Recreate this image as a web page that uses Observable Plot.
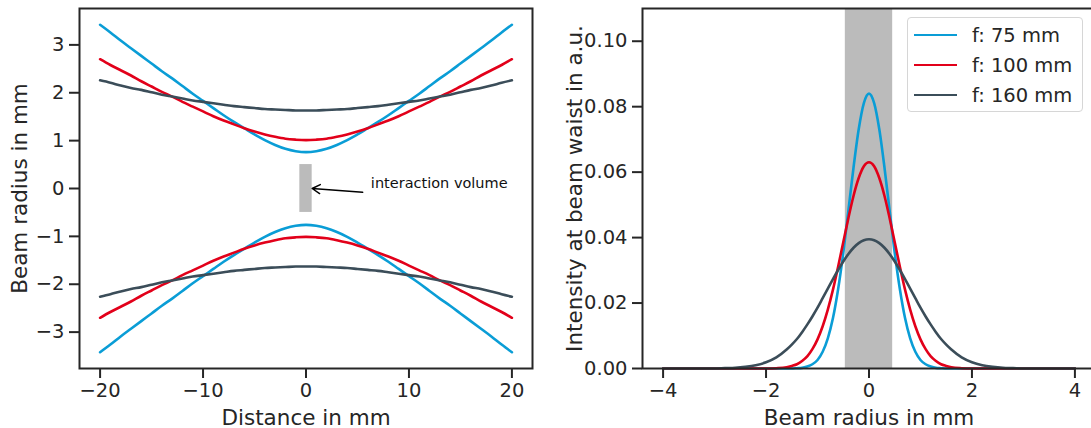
<!DOCTYPE html>
<html>
<head>
<meta charset="utf-8">
<script src="https://cdn.jsdelivr.net/npm/d3@7"></script>
<script src="https://cdn.jsdelivr.net/npm/@observablehq/plot@0.6"></script>
<style>
  html, body { margin: 0; padding: 0; background: #fff; overflow: hidden; }
  #wrap { position: relative; width: 1091px; height: 428px; overflow: hidden; font-family: "DejaVu Sans", sans-serif; color: #262626; }
  #left, #right { position: absolute; top: 0; height: 428px; }
  #left { left: 0; width: 540px; }
  #right { left: 560px; width: 545px; }
  #left svg, #right svg { max-width: none !important; }
  #legend { position: absolute; left: 907px; top: 17px; width: 176px; height: 95px; border: 1px solid #d6d6d6; border-radius: 4px; background: rgba(255,255,255,0.8); box-sizing: border-box; }
  .row { position: absolute; left: 0; height: 30px; display: flex; align-items: center; font-size: 19.5px; white-space: nowrap; }
  .swatch { display: inline-block; width: 43px; height: 2.6px; margin-left: 6px; margin-right: 15px; }
</style>
</head>
<body>
<div id="wrap">
  <div id="left"></div>
  <div id="right"></div>
  <div id="legend"></div>
</div>
<script>
// ---------- Data ----------
const seriesNames = ["f: 75 mm", "f: 100 mm", "f: 160 mm"];
const seriesColors = ["#0a9dd6", "#e2001a", "#3b4d59"];

// Left panel: beam radius (upper envelope) vs distance
const distance = [-20,-19,-18,-17,-16,-15,-14,-13,-12,-11,-10,-9,-8,-7,-6,-5,-4,-3,-2,-1,0,1,2,3,4,5,6,7,8,9,10,11,12,13,14,15,16,17,18,19,20];
const radius75  = [3.42,3.26,3.09,2.93,2.77,2.61,2.45,2.30,2.14,1.98,1.83,1.68,1.53,1.39,1.26,1.13,1.01,0.91,0.83,0.78,0.76,0.78,0.83,0.91,1.01,1.13,1.26,1.39,1.53,1.68,1.83,1.98,2.14,2.30,2.45,2.61,2.77,2.93,3.09,3.26,3.42];
const radius100 = [2.70,2.58,2.47,2.36,2.24,2.13,2.02,1.92,1.81,1.71,1.61,1.51,1.42,1.34,1.26,1.19,1.13,1.08,1.04,1.02,1.01,1.02,1.04,1.08,1.13,1.19,1.26,1.34,1.42,1.51,1.61,1.71,1.81,1.92,2.02,2.13,2.24,2.36,2.47,2.58,2.70];
const radius160 = [2.26,2.21,2.15,2.10,2.06,2.01,1.96,1.92,1.88,1.84,1.81,1.78,1.75,1.72,1.70,1.68,1.66,1.65,1.64,1.63,1.63,1.63,1.64,1.65,1.66,1.68,1.70,1.72,1.75,1.78,1.81,1.84,1.88,1.92,1.96,2.01,2.06,2.10,2.15,2.21,2.26];

// interaction volume box (mm) and annotation
const volumeX = [-0.6, 0.6];
const volumeY = [-0.5, 0.5];
const annotationText = "interaction volume";
const annotationPos = [6.3, 0.11];
const arrowFrom = [5.5, -0.08];
const arrowTo = [0.6, 0.0];

// Right panel: intensity at beam waist vs beam radius
const beamR = [-4,-3.5,-3,-2.8,-2.6,-2.4,-2.2,-2,-1.8,-1.6,-1.5,-1.4,-1.3,-1.2,-1.1,-1,-0.9,-0.8,-0.7,-0.6,-0.5,-0.4,-0.3,-0.2,-0.1,0,0.1,0.2,0.3,0.4,0.5,0.6,0.7,0.8,0.9,1,1.1,1.2,1.3,1.4,1.5,1.6,1.8,2,2.2,2.4,2.6,2.8,3,3.5,4];
const intensity75  = [0,0,0,0,0,0,0,0,0,0,0,0.0001,0.0002,0.0006,0.0013,0.0026,0.0051,0.0092,0.0154,0.0242,0.0353,0.0483,0.0615,0.0731,0.0811,0.0840,0.0811,0.0731,0.0615,0.0483,0.0353,0.0242,0.0154,0.0092,0.0051,0.0026,0.0013,0.0006,0.0002,0.0001,0,0,0,0,0,0,0,0,0,0,0];
const intensity100 = [0,0,0,0,0,0,0,0,0.0001,0.0004,0.0008,0.0013,0.0023,0.0037,0.0059,0.0089,0.0129,0.0180,0.0241,0.0311,0.0386,0.0460,0.0528,0.0582,0.0618,0.0630,0.0618,0.0582,0.0528,0.0460,0.0386,0.0311,0.0241,0.0180,0.0129,0.0089,0.0059,0.0037,0.0023,0.0013,0.0008,0.0004,0.0001,0,0,0,0,0,0,0,0];
const intensity160 = [0,0,0,0.0001,0.0002,0.0005,0.0010,0.0019,0.0034,0.0058,0.0073,0.0090,0.0111,0.0134,0.0159,0.0186,0.0215,0.0244,0.0273,0.0301,0.0327,0.0350,0.0369,0.0383,0.0392,0.0395,0.0392,0.0383,0.0369,0.0350,0.0327,0.0301,0.0273,0.0244,0.0215,0.0186,0.0159,0.0134,0.0111,0.0090,0.0073,0.0058,0.0034,0.0019,0.0010,0.0005,0.0002,0.0001,0,0,0];
const bandX = [-0.46, 0.46];

const leftXTicks = [-20,-10,0,10,20];
const leftYTicks = [-3,-2,-1,0,1,2,3];
const rightXTicks = [-4,-2,0,2,4];
const rightYTicks = [0,0.02,0.04,0.06,0.08,0.10];

// ---------- Build tables ----------
const radii = [radius75, radius100, radius160];
const leftRows = [];
radii.forEach((arr, i) => {
  [1, -1].forEach(sign => {
    distance.forEach((z, k) => leftRows.push({z, w: sign * arr[k], key: seriesNames[i] + (sign > 0 ? " upper" : " lower"), s: i}));
  });
});
const intens = [intensity75, intensity100, intensity160];
const rightRows = [];
intens.forEach((arr, i) => beamR.forEach((r, k) => rightRows.push({r, I: arr[k], s: i})));

const ink = "#262626";
const baseStyle = {fontFamily: "DejaVu Sans", fontSize: "19.5px", color: ink, background: "transparent", overflow: "visible", maxWidth: "none"};
const minus = d3.format("");

// ---------- Left panel ----------
const left = Plot.plot({
  width: 540, height: 428,
  marginLeft: 79, marginRight: 8, marginTop: 8, marginBottom: 60,
  style: baseStyle,
  x: {domain: [-22, 22]},
  y: {domain: [-3.76, 3.76]},
  marks: [
    Plot.rect([{x1: volumeX[0], x2: volumeX[1], y1: volumeY[0], y2: volumeY[1]}], {x1: "x1", x2: "x2", y1: "y1", y2: "y2", fill: "#bbbbbb"}),
    ...[0, 1, 2].map(i => Plot.line(leftRows.filter(d => d.s === i), {x: "z", y: "w", z: "key", stroke: seriesColors[i], strokeWidth: 2.6, curve: "catmull-rom"})),
    Plot.arrow([{x1: arrowFrom[0], y1: arrowFrom[1], x2: arrowTo[0], y2: arrowTo[1]}], {x1: "x1", y1: "y1", x2: "x2", y2: "y2", stroke: "black", strokeWidth: 1.5, headLength: 9, bend: 0}),
    Plot.text([annotationText], {x: annotationPos[0], y: annotationPos[1], text: d => d, textAnchor: "start", fontSize: 14.5, fill: "#111"}),
    Plot.axisX({ticks: leftXTicks, tickFormat: minus, tickSize: 10, tickPadding: 5, strokeWidth: 2, label: null}),
    Plot.axisY({ticks: leftYTicks, tickFormat: minus, tickSize: 10, tickPadding: 5, strokeWidth: 2, label: null}),
    Plot.frame({stroke: ink, strokeWidth: 2}),
    Plot.text(["Beam radius in mm"], {frameAnchor: "left", dx: -59, rotate: -90, textAnchor: "middle", lineAnchor: "middle", text: d => d, fontSize: 21.5, fill: ink}),
    Plot.text(["Distance in mm"], {frameAnchor: "bottom", dy: 41, lineAnchor: "top", textAnchor: "middle", text: d => d, fontSize: 21.5, fill: ink})
  ]
});
document.getElementById("left").append(left);

// ---------- Right panel ----------
const right = Plot.plot({
  width: 545, height: 428,
  marginLeft: 82, marginRight: 10, marginTop: 8, marginBottom: 60,
  style: baseStyle,
  x: {domain: [-4.4, 4.4]},
  y: {domain: [0, 0.11]},
  marks: [
    Plot.rect([{x1: bandX[0], x2: bandX[1]}], {x1: "x1", x2: "x2", fill: "#bbbbbb"}),
    ...[0, 1, 2].map(i => Plot.line(rightRows.filter(d => d.s === i), {x: "r", y: "I", stroke: seriesColors[i], strokeWidth: 2.6, curve: "monotone-x"})),
    Plot.axisX({ticks: rightXTicks, tickFormat: minus, tickSize: 10, tickPadding: 5, strokeWidth: 2, label: null}),
    Plot.axisY({ticks: rightYTicks, tickFormat: d3.format(".2f"), tickSize: 10, tickPadding: 5, strokeWidth: 2, label: null}),
    Plot.frame({stroke: ink, strokeWidth: 2}),
    Plot.text(["Intensity at beam waist in a.u."], {frameAnchor: "left", dx: -67, rotate: -90, textAnchor: "middle", lineAnchor: "middle", text: d => d, fontSize: 21.5, fill: ink}),
    Plot.text(["Beam radius in mm"], {frameAnchor: "bottom", dy: 41, lineAnchor: "top", textAnchor: "middle", text: d => d, fontSize: 21.5, fill: ink})
  ]
});
document.getElementById("right").append(right);

// ---------- Legend ----------
const legend = document.getElementById("legend");
seriesNames.forEach((name, i) => {
  const row = document.createElement("div");
  row.className = "row";
  row.style.top = (2 + i * 30) + "px";
  const sw = document.createElement("span");
  sw.className = "swatch";
  sw.style.background = seriesColors[i];
  const tx = document.createElement("span");
  tx.textContent = name;
  row.append(sw, tx);
  legend.append(row);
});
</script>
</body>
</html>
